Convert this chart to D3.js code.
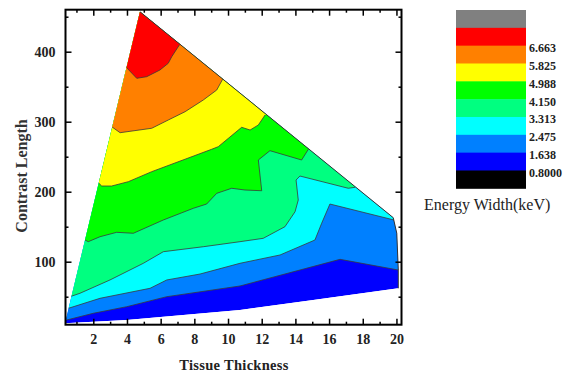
<!DOCTYPE html>
<html><head><meta charset="utf-8">
<script src="https://cdn.jsdelivr.net/npm/d3@7"></script>
<style>body{margin:0;background:#fff}svg{display:block}</style>
</head><body><svg id="c" width="568" height="377"></svg>
<script>
// ---- data ----
const levels = [0.8, 1.638, 2.475, 3.313, 4.150, 4.988, 5.825, 6.663];
const levelLabels = ["0.8000", "1.638", "2.475", "3.313", "4.150", "4.988", "5.825", "6.663"];
// band colours from lowest (< 0.8) to highest (> 6.663 overflow)
const bandColors = ["#000000", "#0000ff", "#0080ff", "#00ffff", "#00ff80", "#00ff00", "#ffff00", "#ff8000", "#ff0000", "#808080"];
const xTickValues = [2, 4, 6, 8, 10, 12, 14, 16, 18, 20];
const xMinorValues = [1, 3, 5, 7, 9, 11, 13, 15, 17, 19];
const yTickValues = [100, 200, 300, 400];
const yMinorValues = [50, 150, 250, 350, 450];
// boundary of the data region (Tissue Thickness, Contrast Length)
const hull = [[0.32, 12], [4.77, 457.1], [19.81, 162.9], [20.02, 140.6], [20.11, 88.1], [20.11, 62], [15.06, 45.3], [10.71, 31], [3.98, 16.7]];
// contour lines, one per level
const c1638 = [[0.42, 16.7], [2.00, 26.3], [3.98, 35.7], [6.36, 50], [10.71, 65.3], [16.65, 103.4], [20.11, 88.1]];
const c2475 = [[0.52, 33.4], [2.40, 47.7], [5.37, 62], [6.36, 73.9], [8.34, 82.4], [10.71, 97.7], [13.09, 109.6], [15.16, 131], [15.56, 154.9], [16.05, 182.4], [19.85, 159.6]];
const c3313 = [[0.62, 50], [1.21, 54.9], [2.99, 73.9], [4.97, 97.7], [6.16, 114.3], [8.53, 121.4], [10.71, 128.6], [12.09, 133.4], [13.38, 150], [13.98, 171.4], [14.17, 188.1], [14.04, 216.7], [14.27, 222.4], [17.14, 204.9], [17.54, 206.3]];
const c4150 = [[1.51, 131], [1.70, 128.6], [2.40, 135.7], [3.39, 142], [4.38, 140.6], [6.16, 159.6], [7.94, 176.3], [8.73, 182.4], [9.33, 197.7], [10.22, 204.9], [11.01, 202.4], [12.00, 201.4], [11.80, 245.3], [12.49, 258.6], [14.37, 245.3], [14.77, 260.6]];
const c4988 = [[2.30, 212.9], [2.50, 208.1], [3.09, 208.1], [4.08, 214.3], [5.47, 228.6], [9.03, 260.6], [9.42, 264.3], [10.81, 292], [11.31, 288.1], [11.80, 295.3], [12.20, 309.6]];
const c5825 = [[3.09, 292.9], [3.59, 284.3], [5.47, 290.6], [6.45, 302.4], [7.45, 314.3], [8.53, 331], [9.33, 345.3], [9.68, 360.6]];
const c6663 = [[3.92, 378.6], [4.58, 362], [5.17, 364.3], [5.96, 373.9], [6.45, 383.4], [6.66, 392.9], [7.11, 409.6]];
const contourLines = [c1638, c2475, c3313, c4150, c4988, c5825, c6663];

// ---- layout ----
const svg = d3.select("#c");
svg.append("rect").attr("width", 568).attr("height", 377).attr("fill", "#fff");
const x = d3.scaleLinear().domain([0.35, 20.3]).range([65.5, 401.5]);
const y = d3.scaleLinear().domain([10, 460]).range([324.7, 9.7]);
const line = d3.line().x(d => x(d[0])).y(d => y(d[1]));

svg.append("clipPath").attr("id", "hullClip")
  .append("path").attr("d", line(hull) + "Z");

const g = svg.append("g").attr("clip-path", "url(#hullClip)");
// base band (between 0.8 and 1.638)
g.append("path").attr("d", line(hull) + "Z").attr("fill", bandColors[1]);
// region above each contour line
contourLines.forEach((pts, i) => {
  const s = pts[0], e = pts[pts.length - 1];
  const poly = [[s[0] - 3, s[1]], ...pts, [e[0] + 3, e[1]], [e[0] + 3, 1000], [s[0] - 3, 1000]];
  g.append("path").attr("d", line(poly) + "Z").attr("fill", bandColors[i + 2]);
});
contourLines.forEach(pts => {
  g.append("path").attr("d", line(pts)).attr("fill", "none")
    .attr("stroke", "#3a3a3a").attr("stroke-width", 0.8);
});
// hull outline along the upper-right edges
svg.append("path").attr("d", line(hull.slice(1, 6))).attr("fill", "none")
  .attr("stroke", "#333").attr("stroke-width", 1);

// ---- axes ----
const fontT = "'Liberation Serif','Times New Roman',serif";
function styleAxis(sel) {
  sel.select(".domain").remove();
  sel.selectAll(".tick line").attr("stroke", "#000").attr("stroke-width", 1.5);
  sel.selectAll("text").attr("font-family", fontT).attr("font-weight", "bold")
    .attr("font-size", 14).attr("fill", "#222");
}
const ax = svg.append("g").attr("transform", "translate(0,324.7)")
  .call(d3.axisBottom(x).tickValues(xTickValues).tickSize(-6).tickPadding(9));
styleAxis(ax);
const axm = svg.append("g").attr("transform", "translate(0,324.7)")
  .call(d3.axisBottom(x).tickValues(xMinorValues).tickSize(-3).tickFormat(""));
styleAxis(axm);
const axt = svg.append("g").attr("transform", "translate(0,9.7)")
  .call(d3.axisTop(x).tickValues(xTickValues).tickSize(-6).tickFormat(""));
styleAxis(axt);
const axtm = svg.append("g").attr("transform", "translate(0,9.7)")
  .call(d3.axisTop(x).tickValues(xMinorValues).tickSize(-3).tickFormat(""));
styleAxis(axtm);
const ay = svg.append("g").attr("transform", "translate(65.5,0)")
  .call(d3.axisLeft(y).tickValues(yTickValues).tickSize(-6).tickPadding(10));
styleAxis(ay);
const aym = svg.append("g").attr("transform", "translate(65.5,0)")
  .call(d3.axisLeft(y).tickValues(yMinorValues).tickSize(-3).tickFormat(""));
styleAxis(aym);
const ayr = svg.append("g").attr("transform", "translate(401.5,0)")
  .call(d3.axisRight(y).tickValues(yTickValues).tickSize(-6).tickFormat(""));
styleAxis(ayr);
const ayrm = svg.append("g").attr("transform", "translate(401.5,0)")
  .call(d3.axisRight(y).tickValues(yMinorValues).tickSize(-3).tickFormat(""));
styleAxis(ayrm);

svg.append("rect").attr("x", 65.5).attr("y", 9.7).attr("width", 336).attr("height", 315)
  .attr("fill", "none").attr("stroke", "#000").attr("stroke-width", 2);

svg.append("text").attr("x", 234).attr("y", 370).attr("text-anchor", "middle")
  .attr("font-family", fontT).attr("font-weight", "bold").attr("font-size", 14.5)
  .attr("letter-spacing", 0.3).attr("fill", "#222").text("Tissue Thickness");
svg.append("text").attr("transform", "translate(27,176) rotate(-90)").attr("text-anchor", "middle")
  .attr("font-family", fontT).attr("font-weight", "bold").attr("font-size", 16)
  .attr("fill", "#333").text("Contrast Length");

// ---- legend ----
const legTop = 10, legBottom = 188.3, legX = 456, legW = 70;
const rows = bandColors.slice().reverse();
const ly = d3.scaleBand().domain(d3.range(rows.length)).range([legTop, legBottom]);
svg.append("g").selectAll("rect").data(rows).join("rect")
  .attr("x", legX).attr("y", (d, i) => ly(i)).attr("width", legW)
  .attr("height", ly.bandwidth() + 0.5).attr("fill", d => d);
svg.append("g").selectAll("text").data(levelLabels).join("text")
  .attr("x", legX + 73).attr("y", (d, j) => legTop + (rows.length - 1 - j) * ly.bandwidth() + 2.5)
  .attr("dominant-baseline", "central")
  .attr("font-family", fontT).attr("font-weight", "bold").attr("font-size", 12)
  .attr("fill", "#222").text(d => d);
svg.append("text").attr("x", 424).attr("y", 210)
  .attr("font-family", fontT).attr("font-size", 16).attr("fill", "#222")
  .text("Energy Width(keV)");
</script>
</body></html>
